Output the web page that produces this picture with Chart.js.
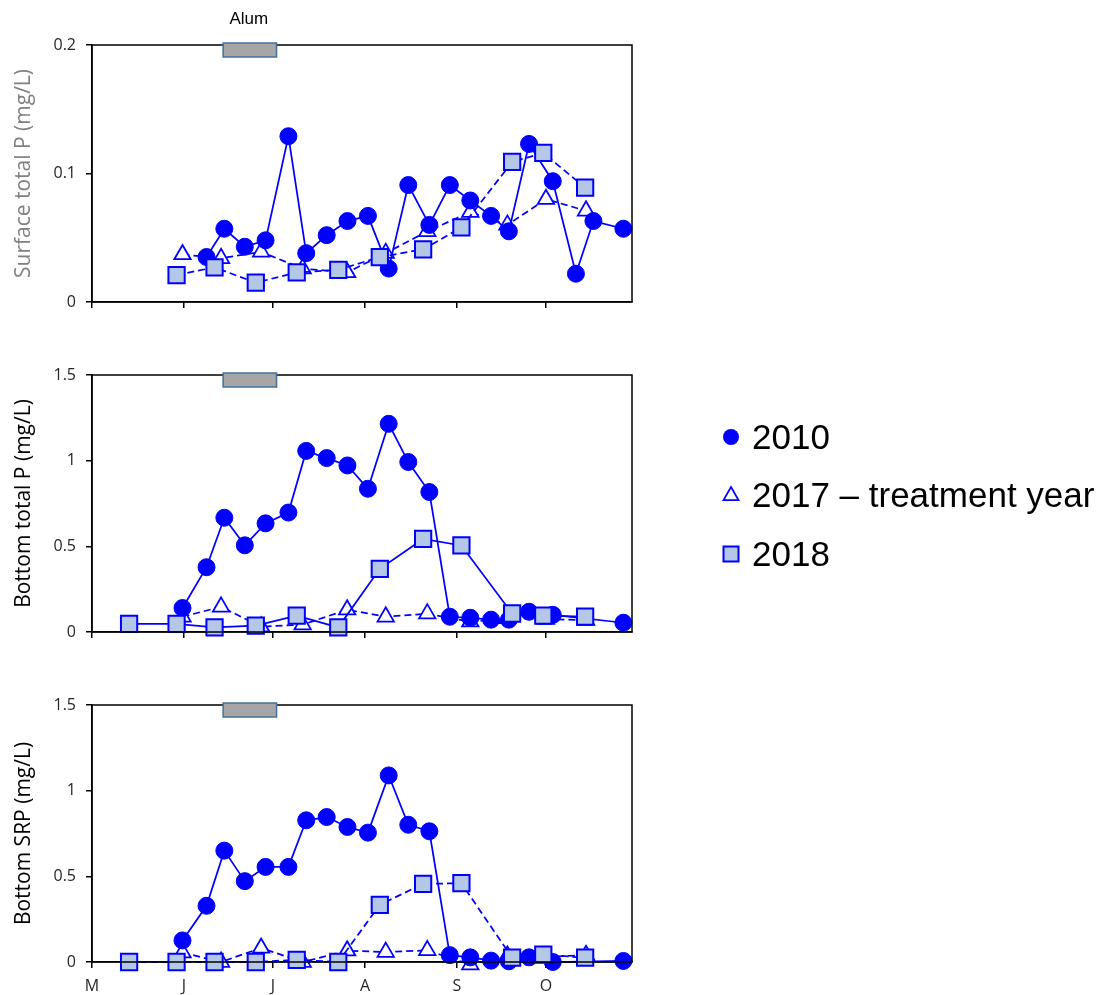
<!DOCTYPE html>
<html>
<head>
<meta charset="utf-8">
<script src="https://cdn.jsdelivr.net/npm/chart.js@4.4.0/dist/chart.umd.min.js"></script>
<style>
  body { margin: 0; background: #fff; width: 1102px; height: 995px; position: relative; overflow: hidden; }
  canvas { position: absolute; left: 0; }
</style>
</head>
<body>
<canvas id="surfaceTP" style="top:0; width:660px; height:330px"></canvas>
<canvas id="bottomTP" style="top:330px; width:1102px; height:330px"></canvas>
<canvas id="bottomSRP" style="top:660px; width:660px; height:335px"></canvas>
<script>
// x values are days counted from 1 May
const monthTicks = [0, 31, 61, 92, 123, 153];
const monthLabels = ['M', 'J', 'J', 'A', 'S', 'O'];
const alumPeriod = [44.2, 62.2];
const legendLabels = ['2010', '2017 \u2013 treatment year', '2018'];

const days2010 = [30.5, 38.6, 44.6, 51.5, 58.5, 66.2, 72.2, 79.1, 86.1, 93.0, 100.0,
                  106.6, 113.7, 120.6, 127.5, 134.5, 140.5, 147.3, 155.3, 163.1, 169.0, 179.1];
const days2017 = [30.5, 43.5, 57.0, 71.0, 86.0, 99.0, 113.0, 127.5, 140.0, 153.0, 166.5];
const days2018 = [12.5, 28.5, 41.3, 55.2, 69.0, 83.0, 97.0, 111.6, 124.5, 141.6, 152.1, 166.2];

// surface total P
const surfTP2010 = [null, 0.035, 0.057, 0.043, 0.048, 0.129, 0.038, 0.052, 0.063, 0.067, 0.026,
                    0.091, 0.060, 0.091, 0.079, 0.067, 0.055, 0.123, 0.094, 0.022, 0.063, 0.057];
const surfTP2017 = [0.037, 0.034, 0.039, 0.026, 0.023, 0.038, 0.055, 0.070, 0.060, 0.080, 0.071];
const surfTP2018 = [null, 0.021, 0.027, 0.015, 0.023, 0.025, 0.035, 0.041, 0.058, 0.109, 0.116, 0.089];

// bottom total P
const botTP2010 = [0.14, 0.378, 0.667, 0.506, 0.634, 0.697, 1.057, 1.015, 0.972, 0.836, 1.215,
                   0.992, 0.817, 0.089, 0.083, 0.072, 0.072, 0.118, 0.10, null, null, 0.054];
const botTP2017 = [0.089, 0.147, 0.031, 0.043, 0.13, 0.089, 0.107, 0.06, 0.08, 0.075, 0.07];
const botTP2018 = [0.047, 0.047, 0.027, 0.037, 0.095, 0.027, 0.369, 0.543, 0.505, 0.108, 0.095, 0.090];

// bottom SRP
const botSRP2010 = [0.126, 0.328, 0.650, 0.472, 0.555, 0.555, 0.827, 0.846, 0.788, 0.755, 1.089,
                    0.801, 0.763, 0.040, 0.027, 0.008, 0.004, 0.027, 0.0, null, null, 0.006];
const botSRP2017 = [0.055, 0.0, 0.082, 0.0, 0.066, 0.058, 0.068, -0.015, 0.035, 0.03, 0.04];
const botSRP2018 = [0.0, 0.0, 0.0, 0.0, 0.013, 0.0, 0.334, 0.456, 0.46, 0.025, 0.043, 0.025];

const BLUE = '#0000ff';
const SQUARE_FILL = '#b4c7e7';
const TICK_FONT = { family: 'Open Sans', size: 16 };

function pts(days, vals) {
    return days.map((d, i) => ({ x: d, y: vals[i] }));
}

// box round the plot area plus the alum bar on its top edge
const framePlugin = {
    id: 'frame',
    afterDatasetsDraw(chart, args, opts) {
        const { ctx, chartArea: a, scales } = chart;
        ctx.save();
        ctx.strokeStyle = '#000';
        ctx.lineWidth = 1.5;
        ctx.strokeRect(a.left, a.top, a.right - a.left, a.bottom - a.top);
        const x0 = scales.x.getPixelForValue(alumPeriod[0]);
        const x1 = scales.x.getPixelForValue(alumPeriod[1]);
        ctx.fillStyle = '#a6a6a6';
        ctx.fillRect(x0, a.top - 2, x1 - x0, 14);
        ctx.strokeStyle = '#41719c';
        ctx.lineWidth = 1.5;
        ctx.strokeRect(x0, a.top - 2, x1 - x0, 14);
        if (opts.label) {
            ctx.fillStyle = '#000';
            ctx.font = '17px "Liberation Sans", Arial, sans-serif';
            ctx.textAlign = 'center';
            ctx.textBaseline = 'middle';
            ctx.fillText(opts.label, (x0 + x1) / 2 - 1, 19);
        }
        ctx.restore();
    }
};

const legendPlugin = {
    id: 'sideLegend',
    afterDraw(chart, args, opts) {
        if (!opts.show) return;
        const ctx = chart.ctx;
        const mx = 731, tx = 752;
        const ys = [107, 165, 224];
        ctx.save();
        // circle
        ctx.fillStyle = BLUE;
        ctx.beginPath();
        ctx.arc(mx, ys[0], 8, 0, Math.PI * 2);
        ctx.fill();
        // triangle
        ctx.fillStyle = '#fff';
        ctx.strokeStyle = BLUE;
        ctx.lineWidth = 1.75;
        ctx.beginPath();
        ctx.moveTo(mx, ys[1] - 8);
        ctx.lineTo(mx + 7.5, ys[1] + 5);
        ctx.lineTo(mx - 7.5, ys[1] + 5);
        ctx.closePath();
        ctx.fill();
        ctx.stroke();
        // square
        ctx.fillStyle = SQUARE_FILL;
        ctx.lineWidth = 2;
        ctx.fillRect(mx - 7.5, ys[2] - 7.5, 15, 15);
        ctx.strokeRect(mx - 7.5, ys[2] - 7.5, 15, 15);
        ctx.fillStyle = '#000';
        ctx.font = '35px "Liberation Sans", Arial, sans-serif';
        ctx.textBaseline = 'middle';
        legendLabels.forEach((t, i) => ctx.fillText(t, tx, ys[i] + 2));
        ctx.restore();
    }
};

function makeChart(id, cfg) {
    const canvas = document.getElementById(id);
    canvas.width = parseInt(canvas.style.width);
    canvas.height = parseInt(canvas.style.height);
    return new Chart(canvas, {
        type: 'line',
        data: {
            datasets: [
                {
                    label: '2010',
                    data: pts(days2010, cfg.v2010),
                    borderColor: BLUE,
                    borderWidth: 1.75,
                    spanGaps: true,
                    pointStyle: 'circle',
                    pointRadius: 8.5,
                    pointBackgroundColor: BLUE,
                    pointBorderColor: BLUE,
                    pointBorderWidth: 1,
                    order: 1
                },
                {
                    label: '2017 \u2013 treatment year',
                    data: pts(days2017, cfg.v2017),
                    borderColor: BLUE,
                    borderWidth: 1.75,
                    borderDash: [7, 4],
                    pointStyle: 'triangle',
                    pointRadius: 9.5,
                    pointBackgroundColor: '#fff',
                    pointBorderColor: BLUE,
                    pointBorderWidth: 1.75,
                    order: 2
                },
                {
                    label: '2018',
                    data: pts(days2018, cfg.v2018),
                    borderColor: BLUE,
                    borderWidth: 1.75,
                    borderDash: cfg.dash2018 ? [7, 4] : [],
                    spanGaps: true,
                    pointStyle: 'rect',
                    pointRadius: 11.5,
                    pointBackgroundColor: SQUARE_FILL,
                    pointBorderColor: BLUE,
                    pointBorderWidth: 2,
                    order: 0
                }
            ]
        },
        options: {
            responsive: false,
            animation: false,
            clip: false,
            layout: { padding: { top: 45, right: canvas.width - 632, bottom: 0, left: 0 } },
            plugins: {
                legend: { display: false },
                tooltip: { enabled: false },
                frame: { label: cfg.alumLabel },
                sideLegend: { show: !!cfg.legend }
            },
            scales: {
                x: {
                    type: 'linear',
                    min: 0,
                    max: 182,
                    afterBuildTicks: s => { s.ticks = monthTicks.map(v => ({ value: v })); },
                    afterFit: s => { s.height = canvas.height - 302; },
                    grid: { drawOnChartArea: false, drawTicks: true, tickLength: 6, color: '#000', lineWidth: 1.5 },
                    border: { color: '#000', width: 1.5 },
                    ticks: {
                        display: true,
                        autoSkip: false,
                        maxRotation: 0,
                        padding: 9,
                        color: '#262626',
                        font: TICK_FONT,
                        callback: (v, i) => cfg.monthLabels ? monthLabels[i] : ''
                    }
                },
                y: {
                    min: 0,
                    max: cfg.yMax,
                    afterFit: s => { s.width = 92; },
                    grid: { drawOnChartArea: false, drawTicks: true, tickLength: 6, color: '#000', lineWidth: 1.5 },
                    border: { color: '#000', width: 1.5 },
                    ticks: {
                        stepSize: cfg.yStep,
                        padding: 10,
                        color: '#262626',
                        font: TICK_FONT,
                        callback: v => String(Number(v.toFixed(2)))
                    },
                    title: {
                        display: true,
                        text: cfg.title,
                        color: cfg.titleColor,
                        font: { family: 'Open Sans', size: 21 },
                        padding: { top: 11, bottom: 0 }
                    }
                }
            }
        },
        plugins: [framePlugin, legendPlugin]
    });
}

makeChart('surfaceTP', {
    v2010: surfTP2010, v2017: surfTP2017, v2018: surfTP2018,
    yMax: 0.2, yStep: 0.1, title: 'Surface total P (mg/L)', titleColor: '#808080',
    dash2018: true, alumLabel: 'Alum'
});
makeChart('bottomTP', {
    v2010: botTP2010, v2017: botTP2017, v2018: botTP2018,
    yMax: 1.5, yStep: 0.5, title: 'Bottom total P (mg/L)', titleColor: '#000',
    dash2018: false, legend: true
});
makeChart('bottomSRP', {
    v2010: botSRP2010, v2017: botSRP2017, v2018: botSRP2018,
    yMax: 1.5, yStep: 0.5, title: 'Bottom SRP (mg/L)', titleColor: '#000',
    dash2018: true, monthLabels: true
});
</script>
</body>
</html>
